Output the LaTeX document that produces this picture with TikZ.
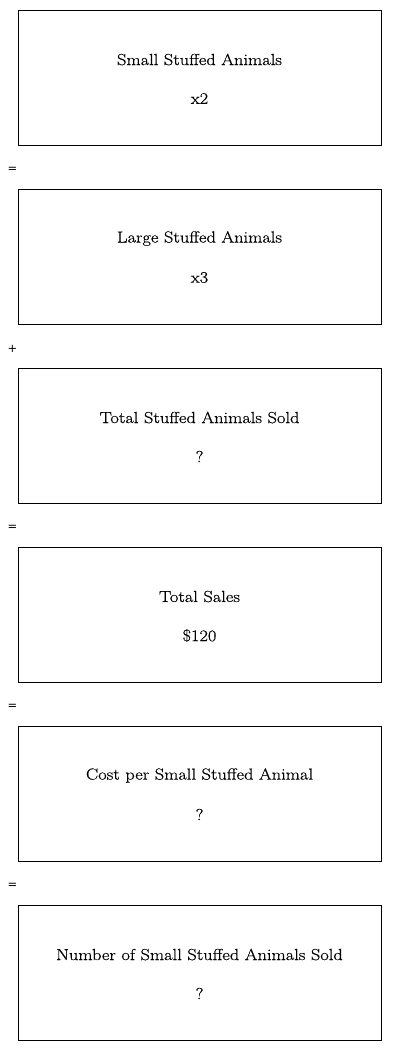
\documentclass[tikz,border=0pt]{standalone}
\usepackage{fontspec}
\newfontfamily\symfont{DejaVu Sans}
\newfontfamily\cardfont{Latin Modern Roman}[FakeStretch=1.15,FakeBold=0.5]
\begin{document}
\begin{tikzpicture}[x=1pt,y=-1pt,
  card/.style={draw=black,line width=1pt,minimum width=363pt,minimum height=135pt,inner sep=0pt},
  ttl/.style={font=\cardfont\fontsize{16}{19}\selectfont,inner sep=0pt},
  op/.style={font=\symfont\fontsize{11.5}{13}\selectfont,inner sep=0pt}]
\useasboundingbox (0,0) rectangle (400,1051);
\foreach \i/\t/\v [count=\k from 0] in {1/Small Stuffed Animals/x2,2/Large Stuffed Animals/x3,3/Total Stuffed Animals Sold/?,4/Total Sales/\$120,5/Cost per Small Stuffed Animal/?,6/Number of Small Stuffed Animals Sold/?}{
  \node[card] (b\i) at (199.5,78+179*\k) {};
  \node[ttl] (t\i) at (199.5,59.5+179*\k) {\t};
  \node[ttl] (v\i) at (199.5,98.5+179*\k) {\v};
}
\node[op] (s1) at (12.5,170) {=};
\node[op] (s2) at (12.5,349) {+};
\node[op] (s3) at (12.5,528) {=};
\node[op] (s4) at (12.5,707) {=};
\node[op] (s5) at (12.5,886) {=};
\end{tikzpicture}
\end{document}
